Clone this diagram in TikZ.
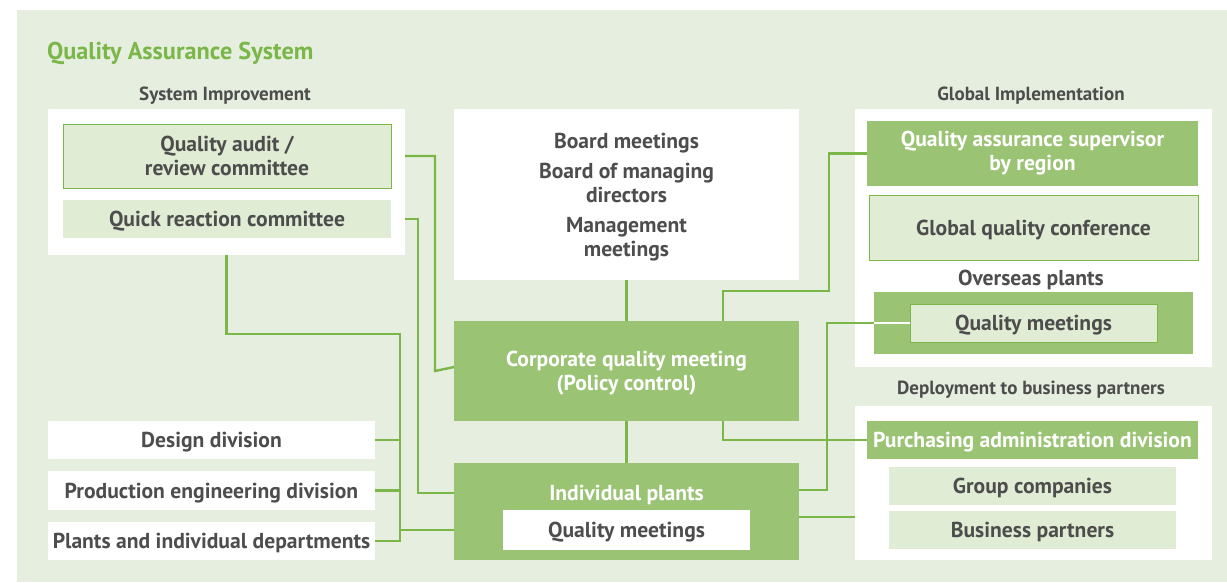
\documentclass[tikz,border=0pt]{standalone}
\usepackage{fontspec}
\setmainfont{PT Sans}
\usetikzlibrary{calc}
\definecolor{bgc}{HTML}{E6EFDF}
\definecolor{lightf}{HTML}{E1ECD4}
\definecolor{boxg}{HTML}{9BC374}
\definecolor{lineg}{HTML}{7AB648}
\definecolor{txt}{HTML}{4D4D4D}
\begin{document}
\begin{tikzpicture}[x=1pt,y=-1pt,
  every node/.style={inner sep=0pt,outer sep=0pt,font=\fontsize{21.6}{24}\selectfont\bfseries,text=txt,align=center},
  sl/.style={text height=18pt,text depth=3pt},
  panel/.style={fill=white},
  lbox/.style={fill=lightf},
  lboxb/.style={fill=lightf,draw=lineg,line width=1pt},
  gbox/.style={fill=boxg,text=white},
  wbox/.style={fill=white},
  hdr/.style={font=\fontsize{19}{22}\selectfont\bfseries},
  conn/.style={draw=lineg,line width=2.4pt}]
\useasboundingbox (0,0) rectangle (1227,582);
\fill[bgc] (17,10) rectangle (1227,582);
\node[anchor=west,font=\fontsize{24.3}{28}\selectfont\bfseries,text=lineg] (title) at (47,53) {Quality Assurance System};
% headers
\node[hdr] (hsys) at (225,96) {System Improvement};
\node[hdr] (hglob) at (1031,96) {Global Implementation};
\node[hdr] (hdep) at (1031,390) {Deployment to business partners};
% left panel
\node[panel,minimum width=357,minimum height=146] (sysimp) at (226.5,182) {};
\node[lboxb,minimum width=328,minimum height=64] (audit) at (227,156) {Quality audit /\\review committee};
\node[lbox,sl,minimum width=328,minimum height=38] (quick) at (227,219) {Quick reaction committee};
% center
\node[panel,minimum width=345,minimum height=171] (board) at (626.5,194.5) {\rule{0pt}{20pt}Board meetings\\[6pt]Board of managing\\directors\\[6pt]Management\\meetings};
\node[gbox,minimum width=345,minimum height=100] (corp) at (626.5,371) {\rule{0pt}{20pt}Corporate quality meeting\\(Policy control)};
\node[gbox,minimum width=345,minimum height=97] (plants) at (626.5,511.5) {};
\node[sl,text=white] (plabel) at (626.5,493) {Individual plants};
\node[wbox,sl,minimum width=247,minimum height=40] (pqm) at (626.5,530) {Quality meetings};
% global panel
\node[panel,minimum width=357,minimum height=258] (glob) at (1033.5,238) {};
\node[gbox,minimum width=331,minimum height=65] (qas) at (1032.5,153.5) {Quality assurance supervisor\\by region};
\node[lboxb,sl,minimum width=329,minimum height=65] (gqc) at (1033.5,227.5) {Global quality conference};
\node[sl] (ovlabel) at (1031,278) {Overseas plants};
\node[gbox,minimum width=319,minimum height=62] (ovs) at (1033.5,323) {};
\node[lboxb,sl,minimum width=247,minimum height=38] (oqm) at (1033.5,323) {Quality meetings};
% deployment panel
\node[panel,minimum width=357,minimum height=154] (deploy) at (1033.5,483) {};
\node[gbox,sl,minimum width=331,minimum height=38] (purch) at (1032.5,440) {Purchasing administration division};
\node[lbox,sl,minimum width=287,minimum height=38] (group) at (1032.5,486) {Group companies};
\node[lbox,sl,minimum width=287,minimum height=38] (bp) at (1032.5,530) {Business partners};
% bottom left
\node[wbox,sl,minimum width=327,minimum height=38] (design) at (211.5,440) {Design division};
\node[wbox,sl,minimum width=327,minimum height=39] (prod) at (211.5,490.5) {Production engineering division};
\node[wbox,sl,minimum width=327,minimum height=38] (pdep) at (211.5,541) {Plants and individual departments};
% coordinates
\coordinate (bus) at (400,334);
\coordinate (cx) at (723,0);
\coordinate (r1) at (829,291);
\coordinate (r2) at (827,323);
\coordinate (y490) at (0,490);
\coordinate (y517) at (0,517);
\coordinate (x435) at (435,0);
\coordinate (x418) at (418,0);
% connectors
\draw[conn] (sysimp.east |- audit) -| (x435 |- corp.west) -- ([yshift=4pt]corp.west);
\draw[conn] (sysimp.east |- quick) -| (x418 |- plabel) -- (plants.west |- plabel);
\draw[conn] (sysimp.south) |- (bus) -- (bus |- pdep.east) -- (pdep.east);
\draw[conn] (design.east) -- (design.east -| bus);
\draw[conn] (prod.east) -- (prod.east -| bus);
\draw[conn] (bus |- pqm) -- (plants.west |- pqm);
\draw[conn] (board.south) -- (corp.north);
\draw[conn] (corp.south) -- (plants.north);
\draw[conn] (corp.north -| cx) |- (r1) |- (qas.west);
\draw[conn] (corp.south -| cx) |- (purch.west);
\draw[conn] (plants.east |- y490) -| (r2) -- (ovs.west);
\draw[draw=white,line width=2.4pt] (ovs.west) -- (oqm.west);
\draw[conn] (plants.east |- y517) -- (deploy.west |- y517);
\end{tikzpicture}
\end{document}
